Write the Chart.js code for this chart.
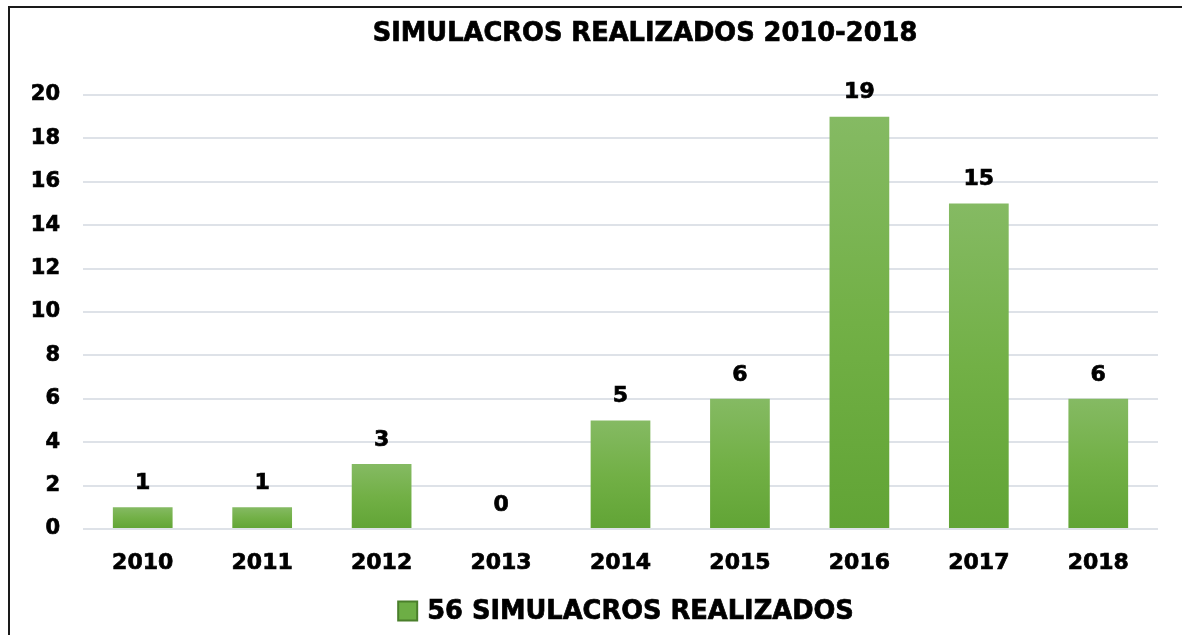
<!DOCTYPE html>
<html>
<head>
<meta charset="utf-8">
<script src="https://cdn.jsdelivr.net/npm/chart.js@4.4.1/dist/chart.umd.min.js"></script>
<style>
  html, body { margin: 0; padding: 0; background: #fff; overflow: hidden; }
  canvas { display: block; }
</style>
</head>
<body>
<canvas id="myBarChart" width="1182" height="635"></canvas>
<script>
var years = ["2010", "2011", "2012", "2013", "2014", "2015", "2016", "2017", "2018"];
var simulacros = [1, 1, 3, 0, 5, 6, 19, 15, 6];
var yTicks = [0, 2, 4, 6, 8, 10, 12, 14, 16, 18, 20];
var chartTitle = "SIMULACROS REALIZADOS 2010-2018";
var seriesLabel = "56 SIMULACROS REALIZADOS";

var FONT = "'DejaVu Sans', Verdana, sans-serif";

function barGradient(context){
    var chart = context.chart;
    if (!chart.chartArea || context.dataIndex === undefined) return "#6DAE45";
    var yScale = chart.scales.y;
    var top = yScale.getPixelForValue(context.raw);
    var bottom = yScale.getPixelForValue(0);
    if (bottom - top < 1) return "#6DAE45";
    var g = chart.ctx.createLinearGradient(0, top, 0, bottom);
    g.addColorStop(0, "#85BA63");
    g.addColorStop(0.5, "#72B046");
    g.addColorStop(1, "#61A435");
    return g;
}

function boldText(ctx, txt, x, y){
    ctx.lineWidth = 0.7;
    ctx.strokeStyle = "#000";
    ctx.strokeText(txt, x, y);
    ctx.fillText(txt, x, y);
}

// outer frame: only left and top edges show in the picture
var framePlugin = {
    id: "frame",
    afterDraw: function(chart){
        var ctx = chart.ctx;
        ctx.save();
        ctx.strokeStyle = "#1a1a1a";
        ctx.lineWidth = 2;
        ctx.beginPath();
        ctx.moveTo(9, 635);
        ctx.lineTo(9, 7);
        ctx.lineTo(1182, 7);
        ctx.stroke();
        ctx.restore();
    }
};

// labels above bars, title and legend drawn by hand
var extrasPlugin = {
    id: "extras",
    afterDatasetsDraw: function(chart){
        var ctx = chart.ctx;
        var meta = chart.getDatasetMeta(0);
        ctx.save();
        ctx.fillStyle = "#000";
        ctx.font = "bold 22px " + FONT;
        ctx.textAlign = "center";
        ctx.textBaseline = "middle";
        meta.data.forEach(function(bar, i){
            boldText(ctx, String(simulacros[i]), bar.x, bar.y - 24);
        });

        ctx.font = "bold 25.7px " + FONT;
        boldText(ctx, chartTitle, 645, 34);

        var tw = ctx.measureText(seriesLabel).width;
        var boxW = 19, gap = 10;
        var total = boxW + gap + tw;
        var x0 = 626 - total / 2;
        var yc = 611;
        ctx.fillStyle = "#6DAE45";
        ctx.fillRect(x0, yc - boxW / 2, boxW, boxW);
        ctx.strokeStyle = "#4A7F2B";
        ctx.lineWidth = 2;
        ctx.strokeRect(x0, yc - boxW / 2, boxW, boxW);
        ctx.fillStyle = "#000";
        ctx.textAlign = "left";
        boldText(ctx, seriesLabel, x0 + boxW + gap, yc + 1);
        ctx.restore();
    }
};

new Chart(document.getElementById("myBarChart"), {
    type: 'bar',
    data: {
        labels: years,
        datasets: [{
            label: seriesLabel,
            data: simulacros,
            backgroundColor: barGradient,
            categoryPercentage: 1,
            barPercentage: 0.5
        }]
    },
    options: {
        responsive: false,
        animation: false,
        layout: { padding: { top: 95, right: 24, bottom: 0, left: 0 } },
        plugins: {
            legend: { display: false },
            title: { display: false },
            tooltip: { enabled: false }
        },
        scales: {
            x: {
                grid: { display: false, drawTicks: false },
                border: { display: false },
                ticks: {
                    color: "#000",
                    padding: 21,
                    textStrokeColor: "#000",
                    textStrokeWidth: 0.7,
                    font: { family: FONT, size: 22, weight: "bold" }
                },
                afterFit: function(scale){ scale.height = 106; }
            },
            y: {
                min: 0,
                max: 20,
                afterBuildTicks: function(scale){
                    scale.ticks = yTicks.map(function(v){ return { value: v }; });
                },
                grid: { color: "#DEE2E8", lineWidth: 2, drawTicks: false },
                border: { display: false },
                ticks: {
                    color: "#000",
                    padding: 23,
                    textStrokeColor: "#000",
                    textStrokeWidth: 0.7,
                    font: { family: FONT, size: 21, weight: "bold" }
                },
                afterFit: function(scale){ scale.width = 83; }
            }
        }
    },
    plugins: [extrasPlugin, framePlugin]
});
</script>
</body>
</html>
